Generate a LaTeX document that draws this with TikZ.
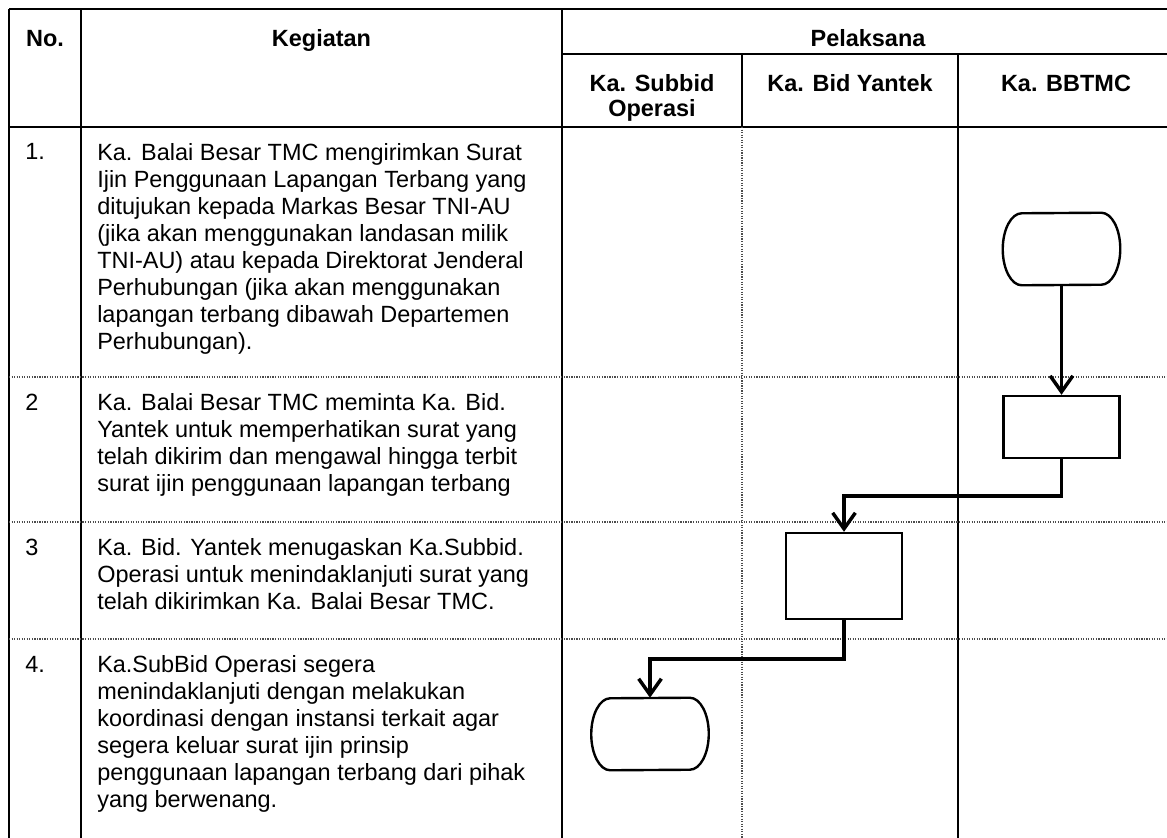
\documentclass[tikz,border=0pt]{standalone}
\usepackage{fontspec}
\setmainfont{Liberation Sans}
\usetikzlibrary{arrows.meta}

\begin{document}
\begin{tikzpicture}[x=0.75pt,y=-0.75pt,
  grid/.style={line width=1.8pt},
  sep/.style={line width=0.9pt,densely dotted,black!70},
  head/.style={font=\fontsize{17.6}{18.75}\selectfont\bfseries,align=center,anchor=base,inner sep=0pt},
  txt/.style={font=\fontsize{17.6}{20.25}\selectfont,align=left,anchor=base west,inner sep=0pt},
  proc/.style={draw,line width=1.8pt,minimum width=87pt,inner sep=0pt},
  term/.style={minimum width=87.75pt,minimum height=54pt,inner sep=0pt},
  flow/.style={line width=2.6pt,-{Straight Barb[length=12pt,width=17pt]}}]
  \useasboundingbox (0,0) rectangle (1167,838);

  \draw[grid] (9,9) -- (1167,9);
  \draw[grid] (9,9) -- (9,838);
  \draw[grid] (81,9) -- (81,838);
  \draw[grid] (562,9) -- (562,838);
  \draw[grid] (562,54) -- (1167,54);
  \draw[grid] (742,54) -- (742,127);
  \draw[grid] (958,54) -- (958,838);
  \draw[grid] (9,127) -- (1167,127);
  \draw[sep] (742,127) -- (742,838);
  \draw[sep] (9,377) -- (1167,377);
  \draw[sep] (9,522) -- (1167,522);
  \draw[sep] (9,639) -- (1167,639);

  % multi-line nodes sit on the baseline of their last line
  \node[head] (hno) at (45,47) {No.};
  \node[head] (hkeg) at (321.5,47) {Kegiatan};
  \node[head] (hpel) at (868,47) {Pelaksana};
  \node[head] (hsub) at (652,117) {Ka. Subbid\\Operasi};
  \node[head] (hbid) at (850,92) {Ka. Bid Yantek};
  \node[head] (hbb) at (1066,92) {Ka. BBTMC};

  \node[txt] (n1) at (25,160) {1.};
  \node[txt] (k1) at (97,349) {Ka. Balai Besar TMC mengirimkan Surat\\
    Ijin Penggunaan Lapangan Terbang yang\\
    ditujukan kepada Markas Besar TNI-AU\\
    (jika akan menggunakan landasan milik\\
    TNI-AU) atau kepada Direktorat Jenderal\\
    Perhubungan (jika akan menggunakan\\
    lapangan terbang dibawah Departemen\\
    Perhubungan).};
  \node[txt] (n2) at (25,410) {2};
  \node[txt] (k2) at (97,491) {Ka. Balai Besar TMC meminta Ka. Bid.\\
    Yantek untuk memperhatikan surat yang\\
    telah dikirim dan mengawal hingga terbit\\
    surat ijin penggunaan lapangan terbang};
  \node[txt] (n3) at (25,555) {3};
  \node[txt] (k3) at (97,609) {Ka. Bid. Yantek menugaskan Ka.Subbid.\\
    Operasi untuk menindaklanjuti surat yang\\
    telah dikirimkan Ka. Balai Besar TMC.};
  \node[txt] (n4) at (25,672) {4.};
  \node[txt] (k4) at (97,807) {Ka.SubBid Operasi segera\\
    menindaklanjuti dengan melakukan\\
    koordinasi dengan instansi terkait agar\\
    segera keluar surat ijin prinsip\\
    penggunaan lapangan terbang dari pihak\\
    yang berwenang.};

  \node[term] (t1) at (1061.5,249) {};
  \node[proc,minimum height=46.5pt] (p2) at (1061.5,427) {};
  \node[proc,minimum height=64.5pt] (p3) at (844,576) {};
  \node[term] (t4) at (650,734) {};

  % terminator outline with elliptic ends
  \foreach \t in {t1,t4}
    \draw[line width=1.8pt] ([xshift=-14.25pt]\t.north east)
      arc[start angle=90,end angle=-90,x radius=14.25pt,y radius=27pt]
      -- ([xshift=14.25pt]\t.south west)
      arc[start angle=270,end angle=90,x radius=14.25pt,y radius=27pt] -- cycle;

  \draw[flow] (t1) -- (p2);
  \draw[flow] (p2.south) -- ++(0,37) -| (p3.north);
  \draw[flow] (p3.south) -- ++(0,39) -| (t4.north);
\end{tikzpicture}
\end{document}
